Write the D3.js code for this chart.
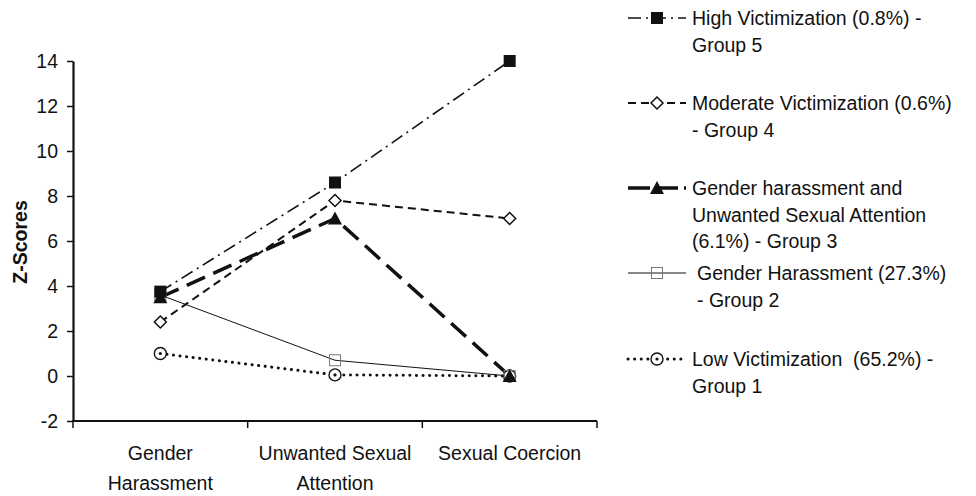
<!DOCTYPE html>
<html>
<head>
<meta charset="utf-8">
<script src="https://cdn.jsdelivr.net/npm/d3@7"></script>
<style>
  body { margin: 0; background: #fff; }
  text { font-family: "Liberation Sans", Arial, sans-serif; fill: #111; }
</style>
</head>
<body>
<div id="chart"></div>
<script>
const width = 976, height = 496;

const categories = ["Gender Harassment", "Unwanted Sexual Attention", "Sexual Coercion"];
const catLines = [["Gender", "Harassment"], ["Unwanted Sexual", "Attention"], ["Sexual Coercion"]];
const yTicks = [-2, 0, 2, 4, 6, 8, 10, 12, 14];

const group1 = [1.0, 0.05, 0.0];
const group2 = [3.6, 0.7, 0.0];
const group3 = [3.5, 7.0, 0.0];
const group4 = [2.4, 7.8, 7.0];
const group5 = [3.75, 8.6, 14.0];

const legendLines = [
  ["High Victimization (0.8%) -", "Group 5"],
  ["Moderate Victimization (0.6%)", "- Group 4"],
  ["Gender harassment and", "Unwanted Sexual Attention", "(6.1%) - Group 3"],
  ["Gender Harassment (27.3%)", "- Group 2"],
  ["Low Victimization  (65.2%) -", "Group 1"]
];

// style per series, drawn in order group1..group5
const series = [
  { values: group1, dash: "0.1 6.5", width: 3, cap: "round", marker: "circle", legendIdx: 4 },
  { values: group2, dash: null, width: 1, cap: "butt", marker: "openSquare", legendIdx: 3 },
  { values: group3, dash: "20 9", width: 3.5, cap: "butt", marker: "triangle", legendIdx: 2 },
  { values: group4, dash: "8 5", width: 2, cap: "butt", marker: "diamond", legendIdx: 1 },
  { values: group5, dash: "13 5 2 5", width: 1.6, cap: "butt", marker: "square", legendIdx: 0 }
];

const margin = { top: 61, left: 73, right: 379, bottom: 75 };
const fs = "19.5px";

const svg = d3.select("#chart").append("svg")
  .attr("width", width).attr("height", height);

const x = d3.scaleBand()
  .domain(categories)
  .range([margin.left, width - margin.right]);

const y = d3.scaleLinear()
  .domain([-2, 14])
  .range([height - margin.bottom, margin.top]);

// y axis
const yAxis = svg.append("g")
  .attr("transform", `translate(${margin.left},0)`)
  .call(d3.axisLeft(y).tickValues(yTicks).tickFormat(d => String(d))
    .tickSize(6).tickSizeOuter(0).tickPadding(9));
yAxis.select(".domain").attr("stroke", "#111").attr("stroke-width", 2.2);
yAxis.selectAll(".tick line").attr("stroke", "#111").attr("stroke-width", 1.5);
yAxis.selectAll(".tick text").style("font-size", fs).attr("fill", "#111");

// x axis (ticks on category boundaries)
const xAxisG = svg.append("g")
  .attr("transform", `translate(0,${y(-2)})`);
xAxisG.append("line")
  .attr("x1", margin.left - 1).attr("x2", width - margin.right)
  .attr("stroke", "#111").attr("stroke-width", 2.2);
const bounds = categories.map(c => x(c)).concat([x(categories[2]) + x.bandwidth()]);
xAxisG.selectAll(".xt").data(bounds).join("line")
  .attr("x1", d => d).attr("x2", d => d)
  .attr("y1", 0).attr("y2", 7)
  .attr("stroke", "#111").attr("stroke-width", 1.5);

categories.forEach((c, i) => {
  const t = svg.append("text")
    .attr("x", x(c) + x.bandwidth() / 2)
    .attr("y", 460)
    .attr("text-anchor", "middle")
    .style("font-size", fs);
  catLines[i].forEach((ln, j) => {
    t.append("tspan").attr("x", x(c) + x.bandwidth() / 2).attr("dy", j === 0 ? 0 : 30).text(ln);
  });
});

svg.append("text")
  .attr("transform", `translate(27,${242}) rotate(-90)`)
  .attr("text-anchor", "middle")
  .style("font-size", fs)
  .style("font-weight", "bold")
  .text("Z-Scores");

function drawMarker(g, type, cx, cy) {
  if (type === "square") {
    g.append("rect").attr("x", cx - 6).attr("y", cy - 6).attr("width", 12).attr("height", 12).attr("fill", "#111");
  } else if (type === "openSquare") {
    g.append("rect").attr("x", cx - 5.5).attr("y", cy - 5.5).attr("width", 11).attr("height", 11)
      .attr("fill", "#fff").attr("fill-opacity", 0.01).attr("stroke", "#777").attr("stroke-width", 1);
  } else if (type === "triangle") {
    g.append("path").attr("d", `M${cx},${cy - 7}L${cx + 7},${cy + 6}L${cx - 7},${cy + 6}Z`).attr("fill", "#111");
  } else if (type === "diamond") {
    g.append("path").attr("d", `M${cx},${cy - 6}L${cx + 6},${cy}L${cx},${cy + 6}L${cx - 6},${cy}Z`)
      .attr("fill", "#fff").attr("stroke", "#111").attr("stroke-width", 1.5);
  } else if (type === "circle") {
    g.append("circle").attr("cx", cx).attr("cy", cy).attr("r", 6)
      .attr("fill", "#fff").attr("stroke", "#111").attr("stroke-width", 1.4);
    g.append("circle").attr("cx", cx).attr("cy", cy).attr("r", 1.6).attr("fill", "#111");
  }
}

const line = d3.line()
  .x((d, i) => x(categories[i]) + x.bandwidth() / 2)
  .y(d => y(d));

const plot = svg.append("g");
series.forEach(s => {
  plot.append("path")
    .datum(s.values)
    .attr("d", line)
    .attr("fill", "none")
    .attr("stroke", "#111")
    .attr("stroke-width", s.width)
    .attr("stroke-linecap", s.cap)
    .attr("stroke-dasharray", s.dash);
});
series.forEach(s => {
  s.values.forEach((v, i) => drawMarker(plot, s.marker, x(categories[i]) + x.bandwidth() / 2, y(v)));
});

// legend
const legendRowY = [18, 103, 188, 273, 359];
const legend = svg.append("g");
series.forEach(s => {
  const yy = legendRowY[s.legendIdx];
  legend.append("line")
    .attr("x1", 628).attr("x2", 686)
    .attr("y1", yy).attr("y2", yy)
    .attr("stroke", "#111")
    .attr("stroke-width", s.width)
    .attr("stroke-linecap", s.cap)
    .attr("stroke-dasharray", s.marker === "triangle" ? "22 6" : s.dash);
  drawMarker(legend, s.marker, 657, yy);
  const tx = s.marker === "openSquare" ? 697 : 692;
  const t = legend.append("text")
    .attr("x", tx).attr("y", yy + 7)
    .style("font-size", fs)
    .style("white-space", "pre");
  legendLines[s.legendIdx].forEach((ln, j) => {
    t.append("tspan").attr("x", tx).attr("dy", j === 0 ? 0 : 26.5).text(ln);
  });
});
</script>
</body>
</html>
